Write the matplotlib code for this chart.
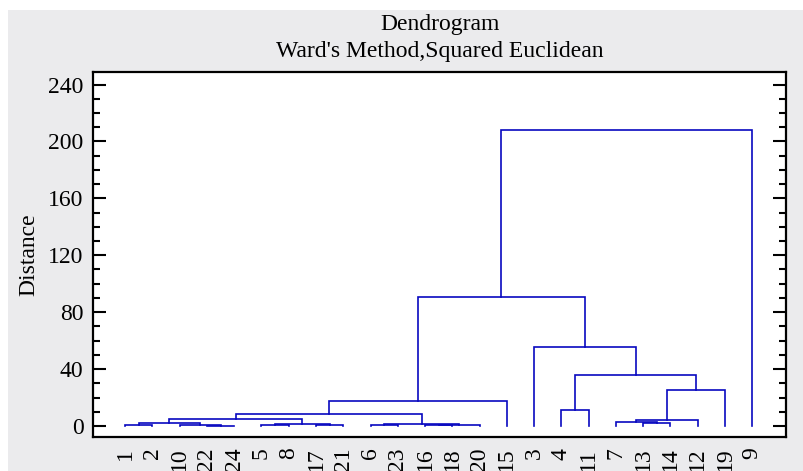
import matplotlib
matplotlib.use("Agg")
import matplotlib.pyplot as plt
from matplotlib.patches import Rectangle
from matplotlib.ticker import MultipleLocator

# leaf order along the x axis
leaf_order = ["1", "2", "10", "22", "24", "5", "8", "17", "21", "6", "23", "16",
              "18", "20", "15", "3", "4", "11", "7", "13", "14", "12", "19", "9"]

# merges: (name, left, right, distance)
merges = [
    ("m1", "22", "24", 0.2),
    ("m2", "1", "2", 0.4),
    ("m3", "10", "m1", 0.7),
    ("m4", "m2", "m3", 1.9),
    ("m5", "5", "8", 0.4),
    ("m6", "17", "21", 0.4),
    ("m7", "m5", "m6", 1.2),
    ("m8", "6", "23", 0.4),
    ("m9", "16", "18", 0.4),
    ("m10", "m9", "20", 0.7),
    ("m11", "m8", "m10", 1.2),
    ("m12", "13", "14", 1.9),
    ("m13", "7", "m12", 3.0),
    ("m14", "m13", "12", 4.2),
    ("m15", "m4", "m7", 4.7),
    ("m16", "m15", "m11", 8.1),
    ("m17", "4", "11", 11.2),
    ("m18", "m16", "15", 17.8),
    ("m19", "m14", "19", 25.3),
    ("m20", "m17", "m19", 35.9),
    ("m21", "3", "m20", 55.5),
    ("m22", "m18", "m21", 90.7),
    ("m23", "m22", "9", 208.0),
]

line_color = "#0808c0"
bg_color = "#ebebed"
fs = 17

plt.rcParams["font.family"] = ["Liberation Serif", "DejaVu Serif"]

fig = plt.figure(figsize=(8.04, 4.71), dpi=100, facecolor="white")
fig.patches.append(Rectangle((8 / 804, 0), 1, 1 - 10 / 471, transform=fig.transFigure,
                             facecolor=bg_color, edgecolor="none", zorder=-10))
ax = fig.add_axes([0.116, 0.073, 0.862, 0.774])
ax.set_facecolor("white")

# x position and height of every node
pos = {lab: float(i) for i, lab in enumerate(leaf_order)}
hgt = {lab: 0.0 for lab in leaf_order}
for name, a, b, d in merges:
    xa, xb = pos[a], pos[b]
    ax.plot([xa, xa, xb, xb], [hgt[a], d, d, hgt[b]], color=line_color, lw=1.2,
            solid_joinstyle="miter")
    pos[name] = (xa + xb) / 2
    hgt[name] = d

ax.set_xlim(-1.17, 24.25)
ax.set_ylim(-7.5, 248.8)
ax.set_xticks(range(len(leaf_order)))
ax.set_xticklabels(leaf_order, rotation=90, fontsize=fs)
ax.tick_params(axis="x", length=0, pad=8)

ax.yaxis.set_major_locator(MultipleLocator(40))
ax.yaxis.set_minor_locator(MultipleLocator(10))
ax.tick_params(axis="y", which="both", direction="in", left=True, right=True,
               width=1.5, labelsize=fs, pad=7)
ax.tick_params(axis="y", which="major", length=9.5)
ax.tick_params(axis="y", which="minor", length=5)
for sp in ax.spines.values():
    sp.set_linewidth(1.6)
ax.set_ylabel("Distance", fontsize=fs, labelpad=6)

ax.set_title("Dendrogram\nWard's Method,Squared Euclidean", fontsize=fs,
             linespacing=1.38, pad=11)

fig.savefig("out.png", dpi=100, facecolor=fig.get_facecolor())
